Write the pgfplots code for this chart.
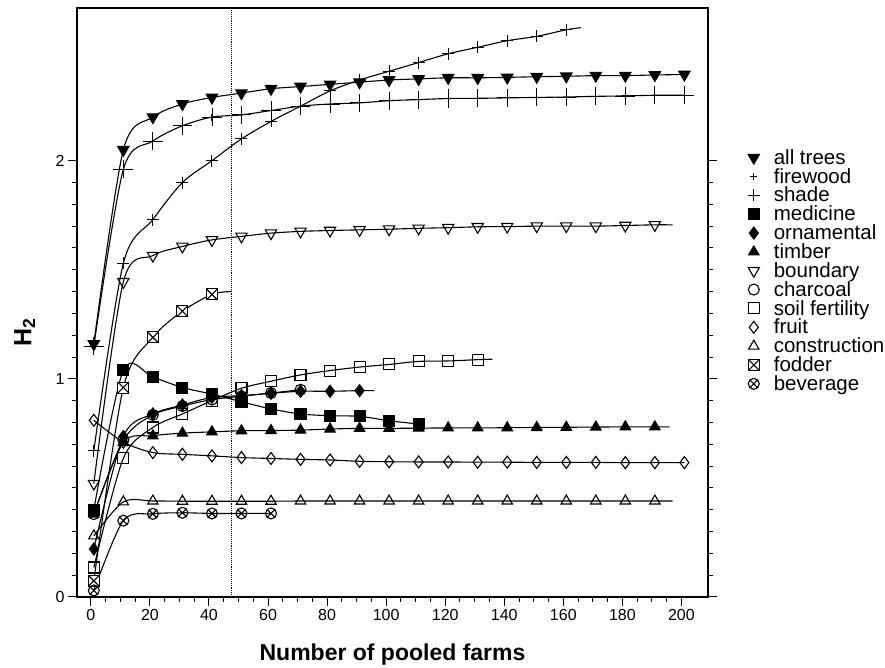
\documentclass[border=0pt]{standalone}
\usepackage{fontspec}
\setmainfont{Liberation Sans}
\usepackage{pgfplots}
\usepackage{pgfplotstable}
\pgfplotsset{compat=1.18}
\usetikzlibrary{plotmarks}

% square with a cross (fodder)
\pgfdeclareplotmark{boxx}{%
  \pgfpathrectangle{\pgfpoint{-\pgfplotmarksize}{-\pgfplotmarksize}}{\pgfpoint{2\pgfplotmarksize}{2\pgfplotmarksize}}%
  \pgfusepathqfillstroke
  \pgfpathmoveto{\pgfpoint{-\pgfplotmarksize}{-\pgfplotmarksize}}\pgfpathlineto{\pgfpoint{\pgfplotmarksize}{\pgfplotmarksize}}%
  \pgfpathmoveto{\pgfpoint{-\pgfplotmarksize}{\pgfplotmarksize}}\pgfpathlineto{\pgfpoint{\pgfplotmarksize}{-\pgfplotmarksize}}%
  \pgfusepathqstroke}

\pgfplotstableread{
x y
1 1.16
11 2.05
21 2.20
31 2.26
41 2.29
51 2.31
61 2.33
71 2.34
81 2.35
91 2.36
101 2.37
111 2.375
121 2.38
131 2.38
141 2.382
151 2.385
161 2.387
171 2.39
181 2.39
191 2.393
201 2.395
}\tAlltrees
\pgfplotstableread{
x y
1 1.15
11 1.96
21 2.09
31 2.16
41 2.20
51 2.21
61 2.23
71 2.25
81 2.26
91 2.265
101 2.275
111 2.28
121 2.285
131 2.286
141 2.288
151 2.29
161 2.292
171 2.295
181 2.297
191 2.30
201 2.30
}\tFirewood
\pgfplotstableread{
x y
1 0.67
11 1.53
21 1.73
31 1.90
41 2.00
51 2.10
61 2.18
71 2.25
81 2.32
91 2.37
101 2.41
111 2.45
121 2.49
131 2.52
141 2.55
151 2.57
161 2.60
166 2.61
}\tShade
\pgfplotstableread{
x y
1 0.40
11 1.04
21 1.007
31 0.96
41 0.93
51 0.895
61 0.862
71 0.839
81 0.831
91 0.828
101 0.808
111 0.793
}\tMedicine
\pgfplotstableread{
x y
1 0.22
11 0.736
21 0.839
31 0.88
41 0.915
51 0.923
61 0.934
71 0.943
81 0.943
91 0.946
96 0.946
}\tOrnamental
\pgfplotstableread{
x y
1 0.38
11 0.708
21 0.739
31 0.751
41 0.757
51 0.762
61 0.763
71 0.765
81 0.77
91 0.773
101 0.773
111 0.774
121 0.775
131 0.775
141 0.776
151 0.777
161 0.778
171 0.779
181 0.78
191 0.78
196 0.78
}\tTimber
\pgfplotstableread{
x y
1 0.52
11 1.445
21 1.565
31 1.607
41 1.637
51 1.653
61 1.668
71 1.676
81 1.68
91 1.683
101 1.686
111 1.69
121 1.693
131 1.697
141 1.698
151 1.70
161 1.70
171 1.70
181 1.703
191 1.706
197 1.706
}\tBoundary
\pgfplotstableread{
x y
1 0.38
11 0.72
21 0.835
31 0.875
41 0.905
51 0.92
61 0.935
71 0.95
}\tCharcoal
\pgfplotstableread{
x y
1 0.135
11 0.636
21 0.777
31 0.839
41 0.90
51 0.957
61 0.989
71 1.018
81 1.038
91 1.054
101 1.066
111 1.08
121 1.082
131 1.088
136 1.09
}\tSoil
\pgfplotstableread{
x y
1 0.81
11 0.71
21 0.662
31 0.654
41 0.647
51 0.639
61 0.635
71 0.631
81 0.628
91 0.622
101 0.62
111 0.619
121 0.619
131 0.618
141 0.618
151 0.617
161 0.617
171 0.617
181 0.616
191 0.616
201 0.616
}\tFruit
\pgfplotstableread{
x y
1 0.28
11 0.436
21 0.44
31 0.439
41 0.439
51 0.439
61 0.439
71 0.44
81 0.44
91 0.44
101 0.44
111 0.44
121 0.44
131 0.44
141 0.44
151 0.44
161 0.44
171 0.44
181 0.44
191 0.44
197 0.44
}\tConstruction
\pgfplotstableread{
x y
1 0.074
11 0.96
21 1.19
31 1.31
41 1.387
47.5 1.40
}\tFodder
\pgfplotstableread{
x y
1 0.03
11 0.35
21 0.381
31 0.386
41 0.383
51 0.383
61 0.383
}\tBeverage

\begin{document}
\begin{tikzpicture}
\useasboundingbox (-77pt,-71pt) rectangle (808pt,597pt);
\begin{axis}[
    scale only axis,
    width=631pt, height=589pt,
    xmin=-4.7, xmax=209,
    ymin=0, ymax=2.70,
    xtick={0,20,...,200}, minor x tick num=3,
    ytick={0,1,2}, minor y tick num=9,
    xtick pos=bottom, ytick pos=both,
    tick align=outside,
    major tick length=9pt, minor tick length=5pt,
    axis line style={line width=1.3pt},
    every tick/.style={black, line width=1pt},
    /pgf/number format/assume math mode=true,
    ticklabel style={font=\fontsize{16}{18}\selectfont},
    xlabel={\textbf{Number of pooled farms}},
    ylabel={\textbf{H\textsubscript{2}}},
    xlabel style={font=\fontsize{23}{25}\selectfont, at={(axis description cs:0.5,0)}, anchor=center, yshift=-58pt},
    ylabel style={font=\fontsize{25}{27}\selectfont, at={(axis description cs:-0.083,0.45)}, anchor=center},
    clip=false,
    legend style={at={(axis description cs:1.058,0.767)}, anchor=north west, draw=none, fill=none,
        font=\fontsize{20.5}{22}\selectfont, row sep=-1.5pt,
        /tikz/every odd column/.append style={column sep=12pt}},
    legend cell align=left,
    every axis plot/.append style={black, line width=1.1pt},
    mark options={solid, line width=0.9pt},
]
% vertical reference line
\addplot[densely dotted, line width=0.7pt, forget plot] coordinates {(47.5,0) (47.5,2.70)};

% curves
\addplot[smooth, forget plot] table {\tAlltrees};
\addplot[smooth, forget plot] table {\tFirewood};
\addplot[smooth, forget plot] table {\tShade};
\addplot[smooth, forget plot] table {\tMedicine};
\addplot[smooth, forget plot] table {\tOrnamental};
\addplot[smooth, forget plot] table {\tTimber};
\addplot[smooth, forget plot] table {\tBoundary};
\addplot[smooth, forget plot] table {\tCharcoal};
\addplot[smooth, forget plot] table {\tSoil};
\addplot[smooth, forget plot] table {\tFruit};
\addplot[smooth, forget plot] table {\tConstruction};
\addplot[smooth, forget plot] table {\tFodder};
\addplot[smooth, forget plot] table {\tBeverage};

% markers
\addplot[only marks, mark=triangle*, mark size=6.5pt, mark options={rotate=180, fill=black}] table {\tAlltrees};
\addplot[only marks, mark=+, mark size=3.5pt, error bars/.cd, y dir=both, y fixed=0.03, x dir=both, x fixed=2.5,
    error bar style={line width=0.8pt}, error mark options={mark size=2.5pt, line width=0.8pt}] table {\tFirewood};
\addplot[only marks, mark=+, mark size=6pt, restrict x to domain=0:163] table {\tShade};
\addplot[only marks, mark=square*, mark size=5.5pt, mark options={fill=black}] table {\tMedicine};
\addplot[only marks, mark=diamond*, mark size=6pt, mark options={fill=black}, restrict x to domain=0:93] table {\tOrnamental};
\addplot[only marks, mark=triangle*, mark size=6pt, mark options={fill=black}, restrict x to domain=0:193] table {\tTimber};
\addplot[only marks, mark=triangle, mark size=6.5pt, mark options={rotate=180, fill=white}, restrict x to domain=0:193] table {\tBoundary};
\addplot[only marks, mark=o, mark size=5.5pt, mark options={fill=white}] table {\tCharcoal};
\addplot[only marks, mark=square, mark size=5.5pt, mark options={fill=white}, restrict x to domain=0:133] table {\tSoil};
\addplot[only marks, mark=diamond, mark size=6pt, mark options={fill=white}] table {\tFruit};
\addplot[only marks, mark=triangle, mark size=6pt, mark options={fill=white}, restrict x to domain=0:193] table {\tConstruction};
\addplot[only marks, mark=boxx, mark size=5.5pt, mark options={fill=white}, restrict x to domain=0:45] table {\tFodder};
\addplot[only marks, mark=otimes, mark size=5.5pt, mark options={fill=white}] table {\tBeverage};

\legend{all trees, firewood, shade, medicine, ornamental, timber, boundary, charcoal, soil fertility, fruit, construction, fodder, beverage}
\end{axis}
\end{tikzpicture}
\end{document}
